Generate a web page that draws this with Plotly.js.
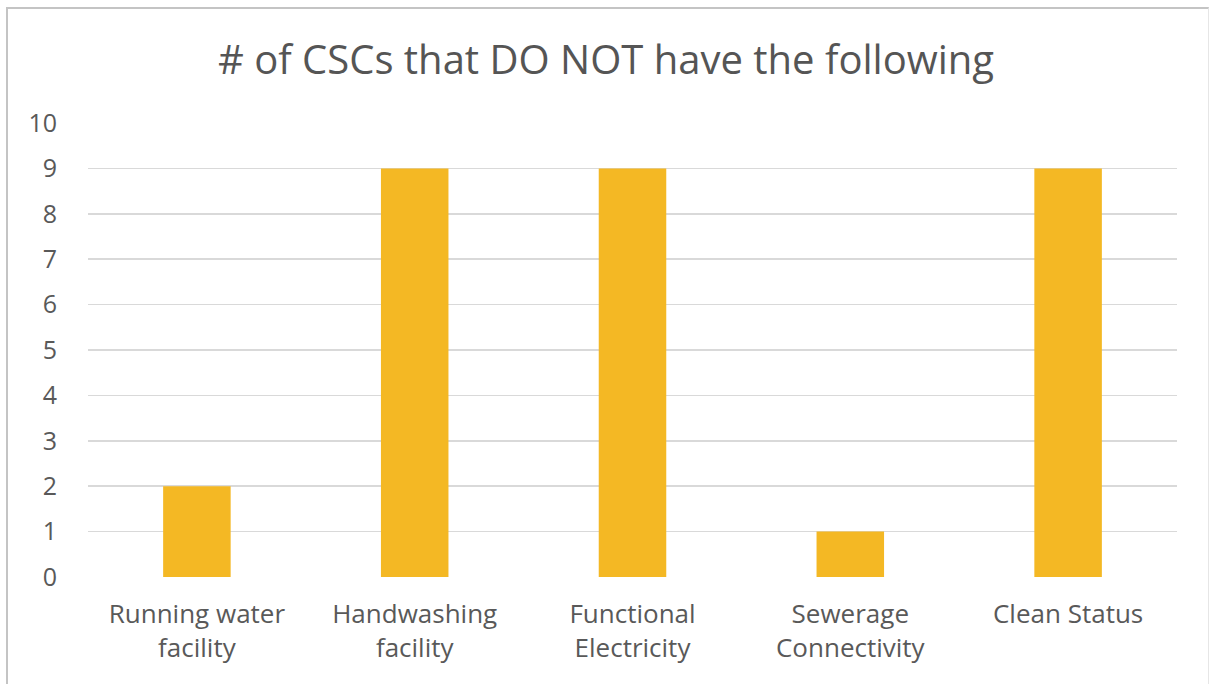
<!DOCTYPE html>
<html><head><meta charset="utf-8">
<script src="https://cdn.plot.ly/plotly-3.0.1.min.js"></script>
<style>body{margin:0;background:#fff}#frame{position:absolute;left:6px;top:7px;width:1203px;height:690px;border-top:2px solid #c4c4c4;border-left:2px solid #c4c4c4;border-right:1px solid #e6e6e6;box-sizing:border-box;pointer-events:none}</style>
</head><body>
<div id="chart" style="width:1212px;height:684px;overflow:hidden"></div>
<div id="frame"></div>
<script>
const categories = ["Running water<br>facility", "Handwashing<br>facility", "Functional<br>Electricity", "Sewerage<br>Connectivity", "Clean Status"];
const values = [2, 9, 9, 1, 9];
const yTicks = [0,1,2,3,4,5,6,7,8,9,10];
const titleText = "# of CSCs that DO NOT have the following";

Plotly.newPlot("chart", [{
  type: "bar", x: categories, y: values,
  marker: {color: "#F4B824"}, hoverinfo: "none"
}], {
  width: 1212, height: 684,
  margin: {l: 88, r: 35, t: 123, b: 107},
  paper_bgcolor: "#fff", plot_bgcolor: "#fff",
  bargap: 0.69,
  showlegend: false,
  title: {text: titleText, x: 0.5, xanchor: "center", y: 0.912, yanchor: "middle",
          font: {family: "Open Sans", size: 40, color: "#555555"}},
  xaxis: {showgrid: false, zeroline: false, showline: false, ticks: "",
          tickfont: {family: "Open Sans", size: 26, color: "#595959"}, ticklabelstandoff: 19},
  yaxis: {range: [0, 10], tickvals: yTicks, showgrid: true, gridcolor: "#D9D9D9", gridwidth: 1.5,
          zeroline: false, showline: false, ticks: "", ticklabelstandoff: 30,
          tickfont: {family: "Open Sans", size: 25, color: "#595959"}}
}, {displayModeBar: false, staticPlot: true});
</script>
</body></html>
